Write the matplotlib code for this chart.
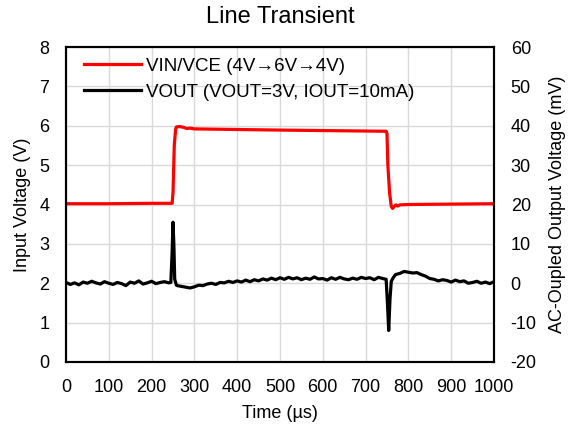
import matplotlib
matplotlib.use("Agg")
import matplotlib.pyplot as plt
from matplotlib.ticker import MultipleLocator

plt.rcParams['font.family'] = ['Liberation Sans', 'DejaVu Sans']
plt.rcParams['axes.unicode_minus'] = False

title = "Line Transient"
xlabel = "Time (µs)"
ylabel_left = "Input Voltage (V)"
ylabel_right = "AC-Oupled Output Voltage (mV)"
label_vin = "VIN/VCE (4V→6V→4V)"
label_vout = "VOUT (VOUT=3V, IOUT=10mA)"

vin_t = [0, 100, 200, 248, 250, 253, 256, 258, 265, 275, 282, 290, 300, 500,
         748, 750, 752, 756, 760, 763, 767, 771, 775, 780, 800, 1000]
vin_v = [4.02, 4.02, 4.03, 4.03, 4.3, 5.5, 5.9, 5.97, 5.98, 5.96, 5.93, 5.94, 5.92, 5.89,
         5.86, 5.8, 5.0, 4.3, 3.95, 3.9, 3.95, 3.99, 3.96, 3.99, 4.0, 4.02]

vout_t = [0, 10, 20, 30, 40, 50, 60, 70, 80, 90, 100, 110, 120, 130, 140, 150, 160,
          170, 180, 190, 200, 210, 220, 230, 240, 245, 248, 250, 252, 254, 258,
          260, 270, 280, 290, 300, 310, 320, 330, 340, 350, 360, 370, 380, 390,
          400, 410, 420, 430, 440, 450, 460, 470, 480, 490, 500, 510, 520, 530,
          540, 550, 560, 570, 580, 590, 600, 610, 620, 630, 640, 650, 660, 670,
          680, 690, 700, 710, 720, 730, 740, 748, 751, 754, 757, 760, 765,
          770, 780, 790, 800, 810, 820, 830, 840, 850, 860, 870, 880, 890, 900,
          910, 920, 930, 940, 950, 960, 970, 980, 990, 1000]
vout_mv = [0.2, -0.3, 0.1, -0.4, 0.3, 0.0, 0.5, 0.1, -0.2, 0.4, 0.0, -0.3, 0.2, -0.1,
           -0.6, 0.3, 0.0, 0.6, -0.2, 0.1, 0.5, -0.1, 0.2, 0.4, 0.1, 0.2, 8.0, 15.5,
           10.0, 1.0, -0.5,
           -0.6, -0.8, -1.0, -1.2, -0.9, -0.5, -0.6, -0.2, 0.0, -0.3, 0.2, 0.1, 0.5,
           0.2, 0.6, 0.3, 0.8, 0.4, 0.9, 0.6, 1.1, 0.8, 1.3, 0.9, 1.4, 1.0, 1.5, 1.1,
           1.4, 0.9, 1.3, 1.0, 1.6, 1.1, 1.2, 0.8, 1.4, 1.0, 1.5, 1.1, 0.9, 1.3,
           1.0, 1.5, 1.2, 1.4, 0.9, 1.5, 1.2, 1.0, -5.0, -12.0, -4.0, 0.5, 1.5,
           2.2, 2.5, 3.0, 2.8, 2.6, 2.7, 2.2, 1.8, 1.2, 1.0, 0.6, 0.9, 0.7, 0.3,
           0.8, 0.4, 0.6, 0.0, 0.2, 0.5, 0.0, 0.3, -0.1, 0.4]

fig = plt.figure(figsize=(5.76, 4.28), dpi=100)
ax = fig.add_axes([66/576, 1-362/428, (494-66)/576, (362-47)/428])
ax2 = ax.twinx()

ax.set_xlim(0, 1000)
ax.set_ylim(0, 8)
ax2.set_ylim(-20, 60)
ax.xaxis.set_major_locator(MultipleLocator(100))
ax.yaxis.set_major_locator(MultipleLocator(1))
ax2.yaxis.set_major_locator(MultipleLocator(10))
ax.grid(True, color='#d9d9d9', lw=1)
ax.set_axisbelow(True)

l1, = ax.plot(vin_t, vin_v, color='red', lw=2.3, label=label_vin)
l2, = ax2.plot(vout_t, vout_mv, color='black', lw=2.3, label=label_vout)

for a in (ax, ax2):
    for s in a.spines.values():
        s.set_linewidth(1.5)
        s.set_color('black')
    a.tick_params(length=0, labelsize=13)
ax.tick_params(axis='y', pad=12)
ax.tick_params(axis='x', pad=12)
ax2.tick_params(axis='y', pad=12)

ax.set_title(title, fontsize=17, pad=17)
ax.set_xlabel(xlabel, fontsize=13, labelpad=7)
ax.set_ylabel(ylabel_left, fontsize=13, labelpad=6)
ax2.set_ylabel(ylabel_right, fontsize=13, labelpad=9)

ax2.legend(handles=[l1, l2], loc='upper left', bbox_to_anchor=(0.01, 1.01),
           frameon=False, fontsize=13.5, handlelength=3.0, handletextpad=0.3,
           labelspacing=0.45, borderaxespad=0.35)

fig.savefig("out.png", dpi=100)
